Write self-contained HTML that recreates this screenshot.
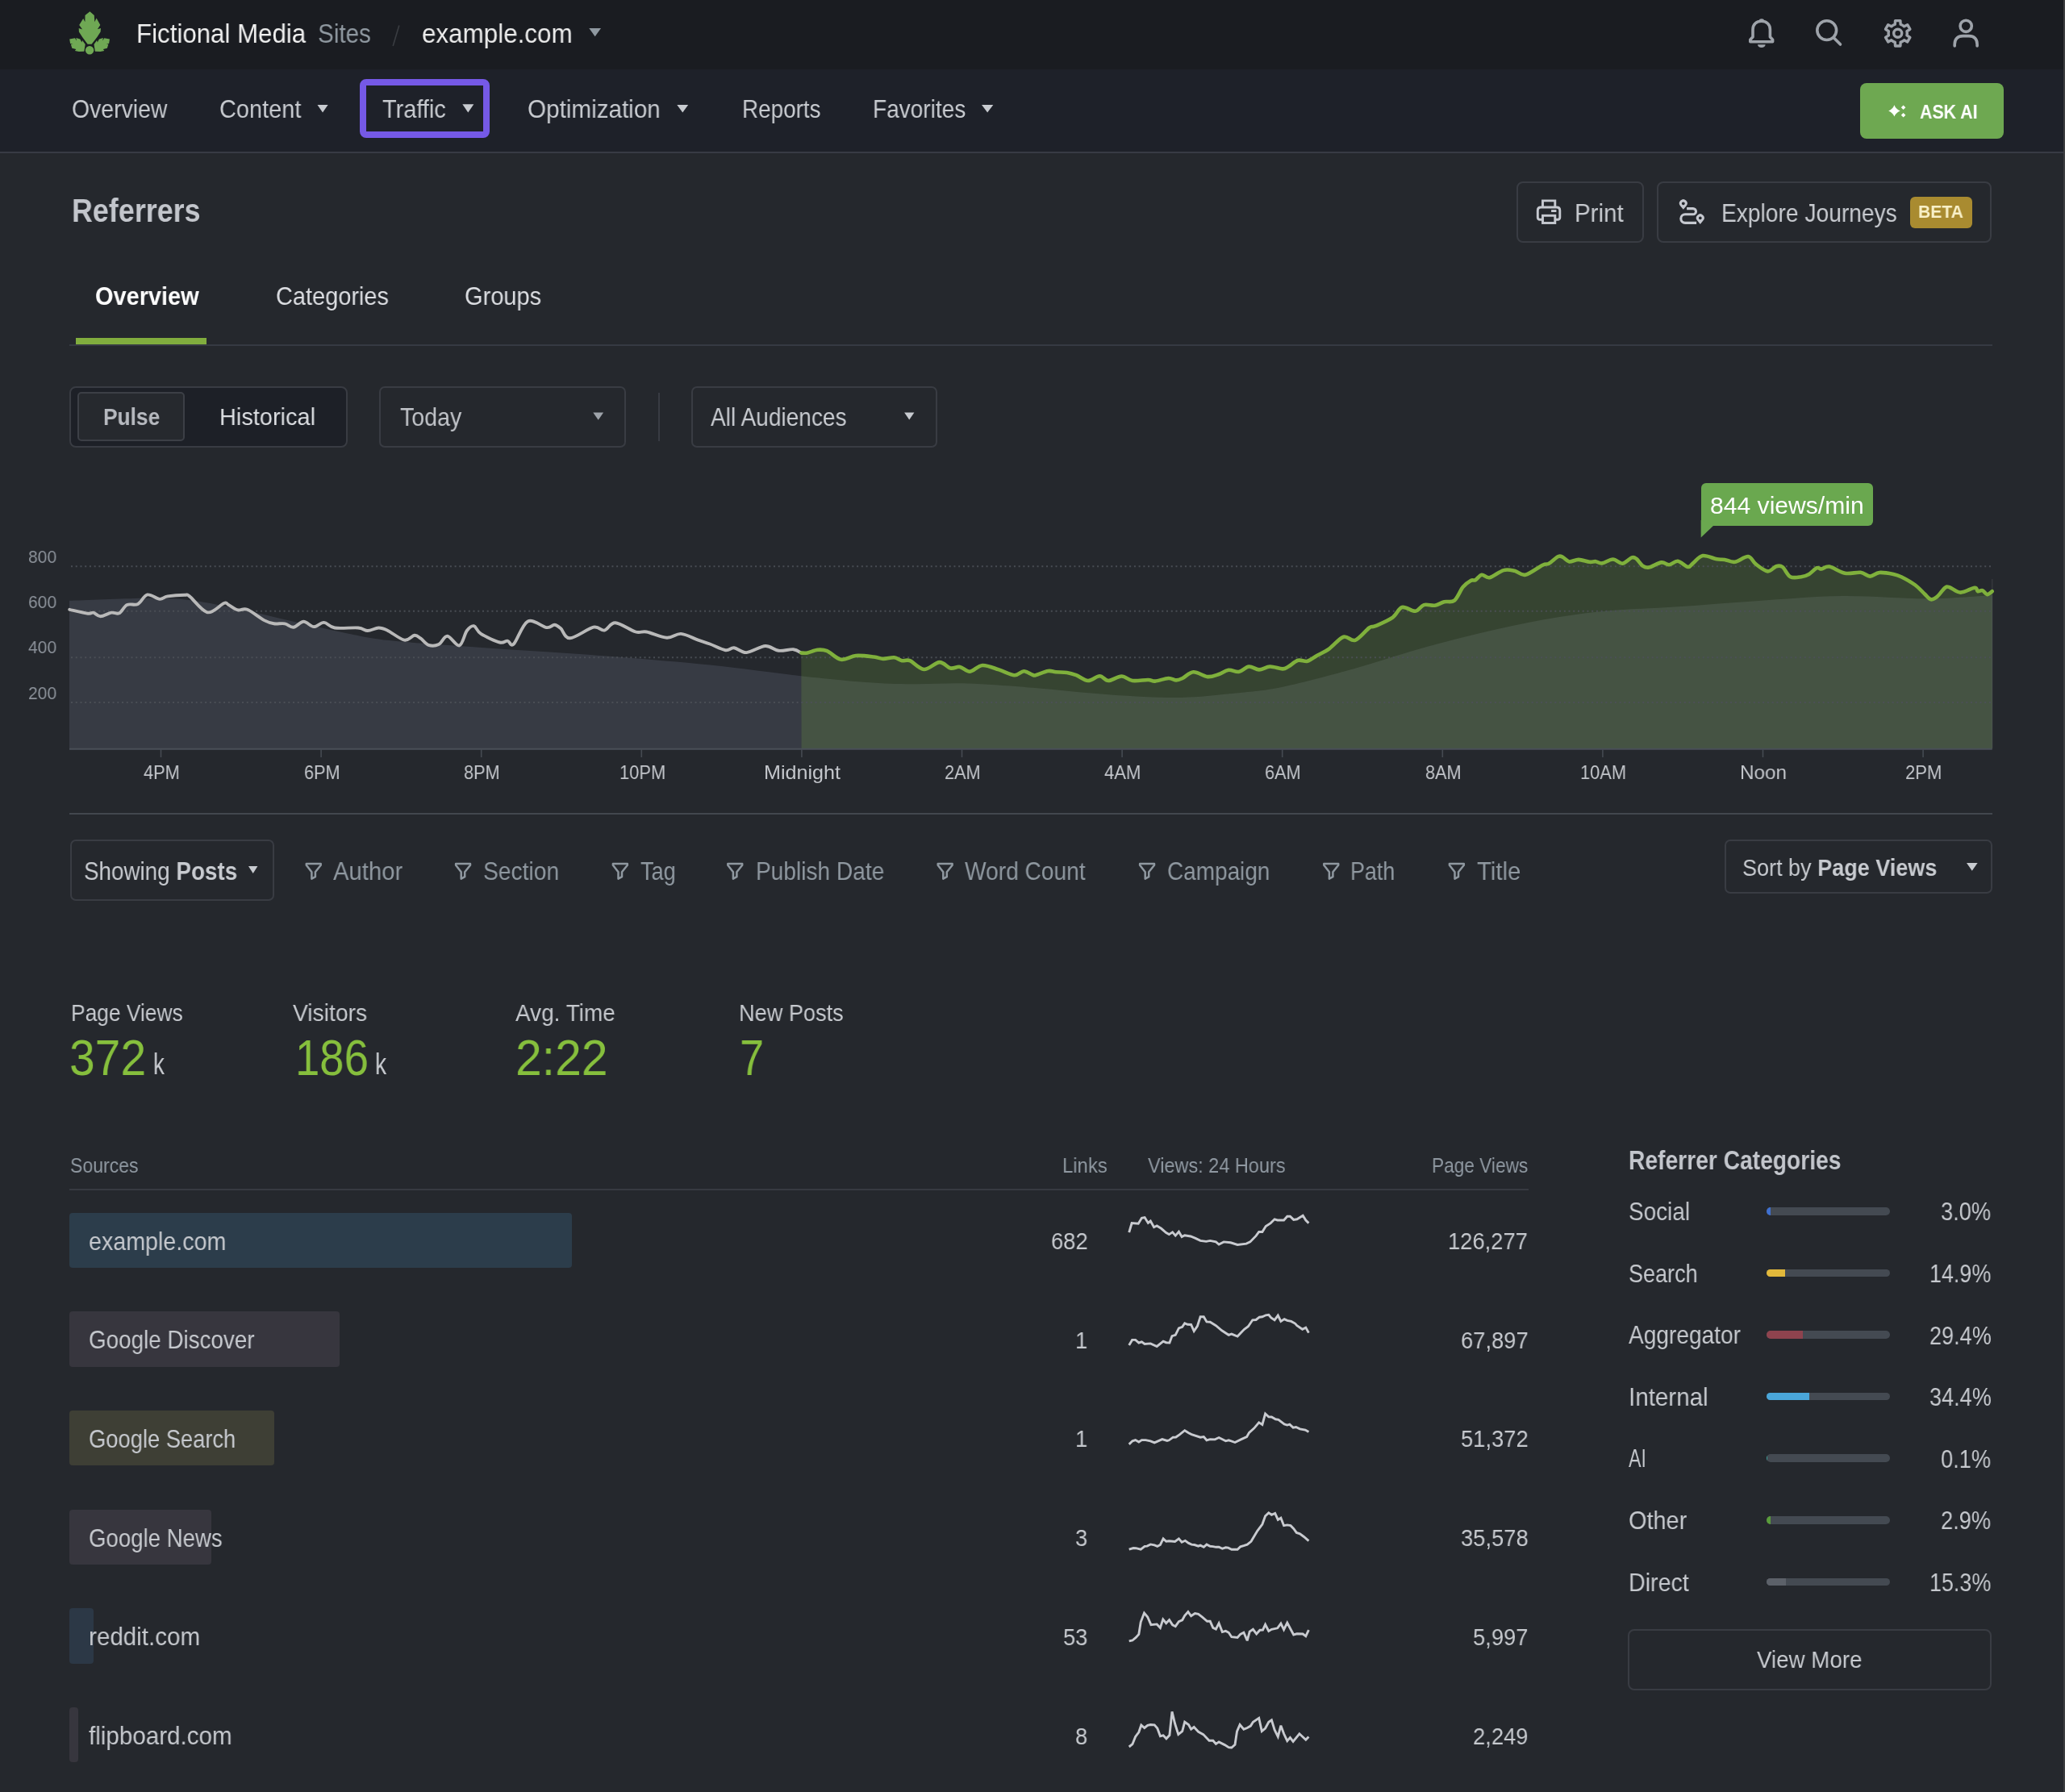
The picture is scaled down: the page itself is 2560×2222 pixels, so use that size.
<!DOCTYPE html>
<html><head><meta charset="utf-8"><title>Referrers</title>
<style>
html,body{margin:0;padding:0;background:#25282d;}
body{width:2560px;height:2222px;position:relative;overflow:hidden;font-family:"Liberation Sans",sans-serif;}
.t{position:absolute;white-space:nowrap;line-height:1;transform-origin:0 0;will-change:transform;}
.t b{font-weight:700;}
.r{position:absolute;box-sizing:border-box;}
svg.r{overflow:visible;}
</style></head><body>
<div class="r" style="left:0.00px;top:0.00px;width:2560.00px;height:85.50px;background:#1a1c21;"></div>
<div class="r" style="left:0.00px;top:85.50px;width:2560.00px;height:102.50px;background:#1e2129;"></div>
<div class="r" style="left:0.00px;top:188.00px;width:2560.00px;height:2.00px;background:#383b44;"></div>
<div class="r" style="left:2558.00px;top:0.00px;width:2.00px;height:2222.00px;background:#3d3e40;"></div>
<svg class="r" style="left:80px;top:8px" width="64" height="64" viewBox="0 0 64 64">
<g fill="#6fa854">
<path d="M31.4 6.2 L36.8 11 L37.3 19.3 L39.6 14.6 L44.3 22.9 L40.9 28.2 L45 27.1 L44.6 31.4 L40.4 37.9 L33.6 46.8 L28.6 46.8 L22.1 37.9 L17.9 31.4 L17.7 27.1 L22.1 28.6 L18.2 22.9 L23.2 15 L25.4 19.3 L25.5 11 Z"/>
<path d="M6.2 40.5 L12.9 39.3 L15 42.5 L14.3 39.1 L19.3 40.4 L21.4 44.5 L22.1 42.1 L25.7 47.1 L24.3 55.7 L17.9 56 L12.9 55 L14.3 52.9 L9.3 51.8 L7.9 47.1 L10.4 46.8 L7.1 46.1 Z"/>
<path transform="translate(62.2 0) scale(-1 1)" d="M6.2 40.5 L12.9 39.3 L15 42.5 L14.3 39.1 L19.3 40.4 L21.4 44.5 L22.1 42.1 L25.7 47.1 L24.3 55.7 L17.9 56 L12.9 55 L14.3 52.9 L9.3 51.8 L7.9 47.1 L10.4 46.8 L7.1 46.1 Z"/>
<circle cx="31.1" cy="54.3" r="5.2"/>
</g></svg>
<div class="t" style="left:169.00px;top:26.14px;font-size:32.56px;color:#f0f0f0;transform:scaleX(0.9603);">Fictional Media</div>
<div class="t" style="left:394.30px;top:26.14px;font-size:32.56px;color:#8f98a0;transform:scaleX(0.9105);">Sites</div>
<div class="t" style="left:522.70px;top:26.14px;font-size:32.56px;color:#ececec;transform:scaleX(0.9642);">example.com</div>
<svg class="r" style="left:0;top:0" width="1" height="1" overflow="visible"><path d="M730.30 35.10L745.00 35.10L737.65 45.20Z" fill="#8f98a0"/></svg>
<div class="t" style="left:89.20px;top:119.96px;font-size:30.52px;color:#c8cbd0;transform:scaleX(0.9302);">Overview</div>
<div class="t" style="left:271.50px;top:119.96px;font-size:30.52px;color:#c8cbd0;transform:scaleX(0.9477);">Content</div>
<svg class="r" style="left:0;top:0" width="1" height="1" overflow="visible"><path d="M393.50 130.00L406.60 130.00L400.05 139.50Z" fill="#c8cbd0"/></svg>
<div class="r" style="left:446.00px;top:97.80px;width:161.30px;height:73.10px;border:8px solid #7559e6;border-radius:8px;"></div>
<div class="t" style="left:473.90px;top:120.36px;font-size:30.52px;color:#c8cbd0;transform:scaleX(0.9481);">Traffic</div>
<svg class="r" style="left:0;top:0" width="1" height="1" overflow="visible"><path d="M573.30 129.20L587.30 129.20L580.30 139.50Z" fill="#c8cbd0"/></svg>
<div class="t" style="left:654.00px;top:119.96px;font-size:30.52px;color:#c8cbd0;transform:scaleX(0.9714);">Optimization</div>
<svg class="r" style="left:0;top:0" width="1" height="1" overflow="visible"><path d="M839.30 130.00L853.20 130.00L846.25 139.50Z" fill="#c8cbd0"/></svg>
<div class="t" style="left:920.40px;top:119.96px;font-size:30.52px;color:#c8cbd0;transform:scaleX(0.9133);">Reports</div>
<div class="t" style="left:1081.60px;top:119.96px;font-size:30.52px;color:#c8cbd0;transform:scaleX(0.9186);">Favorites</div>
<svg class="r" style="left:0;top:0" width="1" height="1" overflow="visible"><path d="M1217.00 130.00L1231.30 130.00L1224.15 139.50Z" fill="#c8cbd0"/></svg>
<div class="r" style="left:2306.00px;top:103.30px;width:178.00px;height:68.30px;background:#6ea851;border-radius:8px;"></div>
<div class="t" style="left:2379.90px;top:127.22px;font-size:23.84px;color:#ffffff;font-weight:700;transform:scaleX(0.8961);">ASK AI</div>
<div class="t" style="left:89.20px;top:242.36px;font-size:39.97px;color:#c3c6cc;font-weight:700;transform:scaleX(0.8973);">Referrers</div>
<div class="r" style="left:1880.00px;top:225.00px;width:157.60px;height:75.70px;border:2px solid #393c43;border-radius:8px;"></div>
<div class="t" style="left:1952.00px;top:248.56px;font-size:30.52px;color:#c8cbd0;transform:scaleX(0.9688);">Print</div>
<div class="r" style="left:2053.70px;top:225.00px;width:415.80px;height:75.70px;border:2px solid #393c43;border-radius:8px;"></div>
<div class="t" style="left:2134.20px;top:248.56px;font-size:30.52px;color:#c8cbd0;transform:scaleX(0.9236);">Explore Journeys</div>
<div class="r" style="left:2368.00px;top:243.70px;width:76.70px;height:39.00px;background:#a98b30;border-radius:6px;"></div>
<div class="t" style="left:2378.00px;top:252.23px;font-size:22.53px;color:#f8f0c8;font-weight:700;transform:scaleX(0.9387);">BETA</div>
<div class="t" style="left:118.20px;top:351.96px;font-size:30.52px;color:#ffffff;font-weight:700;transform:scaleX(0.9477);">Overview</div>
<div class="t" style="left:341.60px;top:351.96px;font-size:30.52px;color:#dcdee2;transform:scaleX(0.9484);">Categories</div>
<div class="t" style="left:575.80px;top:351.96px;font-size:30.52px;color:#dcdee2;transform:scaleX(0.9512);">Groups</div>
<div class="r" style="left:86.00px;top:427.30px;width:2384.00px;height:1.50px;background:#363a43;"></div>
<div class="r" style="left:94.00px;top:419.00px;width:162.20px;height:8.00px;background:#81ad3e;"></div>
<div class="r" style="left:86.40px;top:479.30px;width:344.60px;height:75.30px;background:#1d2027;border:2px solid #393c43;border-radius:8px;"></div>
<div class="r" style="left:96.20px;top:486.40px;width:132.60px;height:61.10px;background:#26292e;border:2px solid #3c3f46;border-radius:5px;"></div>
<div class="t" style="left:128.10px;top:502.48px;font-size:29.80px;color:#b6b9bf;font-weight:700;transform:scaleX(0.8831);">Pulse</div>
<div class="t" style="left:271.50px;top:502.48px;font-size:29.80px;color:#dcdee2;transform:scaleX(0.9712);">Historical</div>
<div class="r" style="left:470.00px;top:478.80px;width:306.40px;height:76.00px;border:2px solid #393c43;border-radius:7px;"></div>
<div class="t" style="left:496.20px;top:502.16px;font-size:30.52px;color:#c0c3c8;transform:scaleX(0.9357);">Today</div>
<svg class="r" style="left:0;top:0" width="1" height="1" overflow="visible"><path d="M735.30 511.50L748.10 511.50L741.70 520.70Z" fill="#9ea3aa"/></svg>
<div class="r" style="left:815.60px;top:486.60px;width:2.00px;height:60.70px;background:#393c43;"></div>
<div class="r" style="left:856.50px;top:479.30px;width:305.70px;height:75.70px;border:2px solid #393c43;border-radius:7px;"></div>
<div class="t" style="left:881.30px;top:502.05px;font-size:31.25px;color:#c8cbd0;transform:scaleX(0.8986);">All Audiences</div>
<svg class="r" style="left:0;top:0" width="1" height="1" overflow="visible"><path d="M1121.10 511.40L1133.40 511.40L1127.25 520.60Z" fill="#c8cbd0"/></svg>
<div class="t" style="left:35.03px;top:679.41px;font-size:22.67px;color:#8c929a;transform:scaleX(0.9300);">800</div>
<div class="t" style="left:35.03px;top:734.81px;font-size:22.67px;color:#8c929a;transform:scaleX(0.9300);">600</div>
<div class="t" style="left:35.03px;top:791.11px;font-size:22.67px;color:#8c929a;transform:scaleX(0.9300);">400</div>
<div class="t" style="left:35.03px;top:847.81px;font-size:22.67px;color:#8c929a;transform:scaleX(0.9300);">200</div>
<div class="t" style="left:177.90px;top:946.48px;font-size:24.71px;color:#c3c6cb;transform:scaleX(0.8818);">4PM</div>
<div class="t" style="left:376.65px;top:946.48px;font-size:24.71px;color:#c3c6cb;transform:scaleX(0.8759);">6PM</div>
<div class="t" style="left:575.20px;top:946.48px;font-size:24.71px;color:#c3c6cb;transform:scaleX(0.8779);">8PM</div>
<div class="t" style="left:767.50px;top:946.48px;font-size:24.71px;color:#c3c6cb;transform:scaleX(0.8863);">10PM</div>
<div class="t" style="left:947.20px;top:946.48px;font-size:24.71px;color:#c3c6cb;transform:scaleX(1.0171);">Midnight</div>
<div class="t" style="left:1171.00px;top:946.48px;font-size:24.71px;color:#c3c6cb;transform:scaleX(0.8779);">2AM</div>
<div class="t" style="left:1369.25px;top:946.48px;font-size:24.71px;color:#c3c6cb;transform:scaleX(0.8917);">4AM</div>
<div class="t" style="left:1568.20px;top:946.48px;font-size:24.71px;color:#c3c6cb;transform:scaleX(0.8779);">6AM</div>
<div class="t" style="left:1766.85px;top:946.48px;font-size:24.71px;color:#c3c6cb;transform:scaleX(0.8759);">8AM</div>
<div class="t" style="left:1959.20px;top:946.48px;font-size:24.71px;color:#c3c6cb;transform:scaleX(0.8832);">10AM</div>
<div class="t" style="left:2157.25px;top:946.48px;font-size:24.71px;color:#c3c6cb;transform:scaleX(0.9834);">Noon</div>
<div class="t" style="left:2362.25px;top:946.48px;font-size:24.71px;color:#c3c6cb;transform:scaleX(0.8917);">2PM</div>
<div class="r" style="left:2108.70px;top:599.40px;width:213.10px;height:52.30px;background:#6aa84f;border-radius:6px;"></div>
<div class="t" style="left:2119.50px;top:612.08px;font-size:29.80px;color:#ffffff;transform:scaleX(1.0101);">844 views/min</div>
<div class="r" style="left:86.00px;top:1008.10px;width:2384.00px;height:2.00px;background:#42474e;"></div>
<div class="r" style="left:87.00px;top:1041.00px;width:253.00px;height:75.50px;border:2px solid #393c43;border-radius:7px;"></div>
<div class="t" style="left:104.20px;top:1065.16px;font-size:30.52px;color:#c8cbd0;transform:scaleX(0.9114);">Showing <b>Posts</b></div>
<svg class="r" style="left:0;top:0" width="1" height="1" overflow="visible"><path d="M308.00 1074.00L319.40 1074.00L313.70 1083.00Z" fill="#c8cbd0"/></svg>
<div class="t" style="left:412.70px;top:1065.46px;font-size:30.52px;color:#8f98a0;transform:scaleX(0.9597);">Author</div>
<div class="t" style="left:599.40px;top:1065.46px;font-size:30.52px;color:#8f98a0;transform:scaleX(0.9254);">Section</div>
<div class="t" style="left:793.70px;top:1065.46px;font-size:30.52px;color:#8f98a0;transform:scaleX(0.8881);">Tag</div>
<div class="t" style="left:936.50px;top:1065.46px;font-size:30.52px;color:#8f98a0;transform:scaleX(0.9210);">Publish Date</div>
<div class="t" style="left:1196.10px;top:1065.46px;font-size:30.52px;color:#8f98a0;transform:scaleX(0.9224);">Word Count</div>
<div class="t" style="left:1446.60px;top:1065.46px;font-size:30.52px;color:#8f98a0;transform:scaleX(0.9157);">Campaign</div>
<div class="t" style="left:1674.30px;top:1065.46px;font-size:30.52px;color:#8f98a0;transform:scaleX(0.8808);">Path</div>
<div class="t" style="left:1830.80px;top:1065.46px;font-size:30.52px;color:#8f98a0;transform:scaleX(0.9623);">Title</div>
<div class="r" style="left:2138.40px;top:1041.30px;width:331.20px;height:67.20px;border:2px solid #393c43;border-radius:7px;"></div>
<div class="t" style="left:2160.40px;top:1060.80px;font-size:29.65px;color:#c8cbd0;transform:scaleX(0.9116);">Sort by <b>Page Views</b></div>
<svg class="r" style="left:0;top:0" width="1" height="1" overflow="visible"><path d="M2438.00 1070.00L2451.60 1070.00L2444.80 1079.70Z" fill="#c8cbd0"/></svg>
<div class="t" style="left:88.10px;top:1241.99px;font-size:29.07px;color:#c6c9ce;transform:scaleX(0.9066);">Page Views</div>
<div class="t" style="left:363.10px;top:1241.99px;font-size:29.07px;color:#c6c9ce;transform:scaleX(0.9719);">Visitors</div>
<div class="t" style="left:639.20px;top:1241.99px;font-size:29.07px;color:#c6c9ce;transform:scaleX(0.9618);">Avg. Time</div>
<div class="t" style="left:916.20px;top:1241.99px;font-size:29.07px;color:#c6c9ce;transform:scaleX(0.9343);">New Posts</div>
<div class="t" style="left:86.00px;top:1279.70px;font-size:62.61px;color:#86bf3d;transform:scaleX(0.9097);">372</div>
<div class="t" style="left:365.60px;top:1279.70px;font-size:62.61px;color:#86bf3d;transform:scaleX(0.8695);">186</div>
<div class="t" style="left:638.50px;top:1279.70px;font-size:62.61px;color:#86bf3d;transform:scaleX(0.9398);">2:22</div>
<div class="t" style="left:916.50px;top:1279.70px;font-size:62.61px;color:#86bf3d;transform:scaleX(0.8618);">7</div>
<div class="t" style="left:189.80px;top:1301.88px;font-size:36.41px;color:#c6c9ce;transform:scaleX(0.7604);">k</div>
<div class="t" style="left:465.40px;top:1301.88px;font-size:36.41px;color:#c6c9ce;transform:scaleX(0.7768);">k</div>
<div class="t" style="left:87.20px;top:1431.75px;font-size:26.16px;color:#8f98a1;transform:scaleX(0.8816);">Sources</div>
<div class="t" style="left:1316.60px;top:1431.75px;font-size:26.16px;color:#8f98a1;transform:scaleX(0.9122);">Links</div>
<div class="t" style="left:1422.50px;top:1431.75px;font-size:26.16px;color:#8f98a1;transform:scaleX(0.8973);">Views: 24 Hours</div>
<div class="t" style="left:1775.20px;top:1431.75px;font-size:26.16px;color:#8f98a1;transform:scaleX(0.8664);">Page Views</div>
<div class="r" style="left:86.00px;top:1474.30px;width:1809.00px;height:2.20px;background:#373a41;"></div>
<div class="r" style="left:86.40px;top:1503.80px;width:622.20px;height:68.20px;background:#2c3d4b;border-radius:4px;"></div>
<div class="t" style="left:110.30px;top:1523.66px;font-size:30.52px;color:#c6c9ce;transform:scaleX(0.9393);">example.com</div>
<div class="t" style="left:1303.08px;top:1525.00px;font-size:28.94px;color:#c6c9ce;transform:scaleX(0.9450);">682</div>
<div class="t" style="left:1795.44px;top:1525.00px;font-size:28.94px;color:#c6c9ce;transform:scaleX(0.9450);">126,277</div>
<div class="r" style="left:86.40px;top:1626.45px;width:334.60px;height:68.20px;background:#37363e;border-radius:4px;"></div>
<div class="t" style="left:110.30px;top:1646.36px;font-size:30.52px;color:#c6c9ce;transform:scaleX(0.9108);">Google Discover</div>
<div class="t" style="left:1333.49px;top:1647.70px;font-size:28.94px;color:#c6c9ce;transform:scaleX(0.9450);">1</div>
<div class="t" style="left:1810.64px;top:1647.70px;font-size:28.94px;color:#c6c9ce;transform:scaleX(0.9450);">67,897</div>
<div class="r" style="left:86.40px;top:1749.10px;width:253.40px;height:68.20px;background:#3e3f35;border-radius:4px;"></div>
<div class="t" style="left:110.30px;top:1769.06px;font-size:30.52px;color:#c6c9ce;transform:scaleX(0.8953);">Google Search</div>
<div class="t" style="left:1333.49px;top:1770.40px;font-size:28.94px;color:#c6c9ce;transform:scaleX(0.9450);">1</div>
<div class="t" style="left:1810.64px;top:1770.40px;font-size:28.94px;color:#c6c9ce;transform:scaleX(0.9450);">51,372</div>
<div class="r" style="left:86.40px;top:1871.75px;width:175.30px;height:68.20px;background:#37363e;border-radius:4px;"></div>
<div class="t" style="left:110.30px;top:1891.76px;font-size:30.52px;color:#c6c9ce;transform:scaleX(0.9038);">Google News</div>
<div class="t" style="left:1333.49px;top:1893.10px;font-size:28.94px;color:#c6c9ce;transform:scaleX(0.9450);">3</div>
<div class="t" style="left:1810.64px;top:1893.10px;font-size:28.94px;color:#c6c9ce;transform:scaleX(0.9450);">35,578</div>
<div class="r" style="left:86.40px;top:1994.40px;width:29.50px;height:68.20px;background:#2c3846;border-radius:4px;"></div>
<div class="t" style="left:110.30px;top:2014.46px;font-size:30.52px;color:#c6c9ce;transform:scaleX(0.9699);">reddit.com</div>
<div class="t" style="left:1318.29px;top:2015.80px;font-size:28.94px;color:#c6c9ce;transform:scaleX(0.9450);">53</div>
<div class="t" style="left:1825.87px;top:2015.80px;font-size:28.94px;color:#c6c9ce;transform:scaleX(0.9450);">5,997</div>
<div class="r" style="left:86.40px;top:2117.05px;width:11.10px;height:68.20px;background:#37363e;border-radius:4px;"></div>
<div class="t" style="left:110.30px;top:2137.16px;font-size:30.52px;color:#c6c9ce;transform:scaleX(0.9698);">flipboard.com</div>
<div class="t" style="left:1333.49px;top:2138.50px;font-size:28.94px;color:#c6c9ce;transform:scaleX(0.9450);">8</div>
<div class="t" style="left:1825.87px;top:2138.50px;font-size:28.94px;color:#c6c9ce;transform:scaleX(0.9450);">2,249</div>
<div class="t" style="left:2018.50px;top:1422.84px;font-size:32.56px;color:#c3c6cc;font-weight:700;transform:scaleX(0.8668);">Referrer Categories</div>
<div class="t" style="left:2018.50px;top:1486.97px;font-size:31.10px;color:#c6c9ce;transform:scaleX(0.8982);">Social</div>
<div class="t" style="left:2406.30px;top:1487.35px;font-size:30.66px;color:#c6c9ce;transform:scaleX(0.8902);">3.0%</div>
<div class="r" style="left:2189.5px;top:1497.00px;width:153.5px;height:9.6px;border-radius:5px;background:#444a52;overflow:hidden"><div style="width:5.5px;height:100%;background:#3f70d0"></div></div>
<div class="t" style="left:2018.50px;top:1563.57px;font-size:31.10px;color:#c6c9ce;transform:scaleX(0.8687);">Search</div>
<div class="t" style="left:2392.20px;top:1563.95px;font-size:30.66px;color:#c6c9ce;transform:scaleX(0.8778);">14.9%</div>
<div class="r" style="left:2189.5px;top:1573.60px;width:153.5px;height:9.6px;border-radius:5px;background:#444a52;overflow:hidden"><div style="width:23.4px;height:100%;background:#e2b93b"></div></div>
<div class="t" style="left:2018.50px;top:1640.17px;font-size:31.10px;color:#c6c9ce;transform:scaleX(0.9031);">Aggregator</div>
<div class="t" style="left:2391.70px;top:1640.55px;font-size:30.66px;color:#c6c9ce;transform:scaleX(0.8836);">29.4%</div>
<div class="r" style="left:2189.5px;top:1650.20px;width:153.5px;height:9.6px;border-radius:5px;background:#444a52;overflow:hidden"><div style="width:45.3px;height:100%;background:#8e434e"></div></div>
<div class="t" style="left:2018.50px;top:1716.77px;font-size:31.10px;color:#c6c9ce;transform:scaleX(0.9515);">Internal</div>
<div class="t" style="left:2391.70px;top:1717.15px;font-size:30.66px;color:#c6c9ce;transform:scaleX(0.8836);">34.4%</div>
<div class="r" style="left:2189.5px;top:1726.80px;width:153.5px;height:9.6px;border-radius:5px;background:#444a52;overflow:hidden"><div style="width:53.1px;height:100%;background:#4aa6d9"></div></div>
<div class="t" style="left:2018.50px;top:1793.37px;font-size:31.10px;color:#c6c9ce;transform:scaleX(0.7451);">AI</div>
<div class="t" style="left:2406.30px;top:1793.75px;font-size:30.66px;color:#c6c9ce;transform:scaleX(0.8902);">0.1%</div>
<div class="r" style="left:2189.5px;top:1803.40px;width:153.5px;height:9.6px;border-radius:5px;background:#444a52;overflow:hidden"><div style="width:1.6px;height:100%;background:#3aa39a"></div></div>
<div class="t" style="left:2018.50px;top:1869.97px;font-size:31.10px;color:#c6c9ce;transform:scaleX(0.9294);">Other</div>
<div class="t" style="left:2406.30px;top:1870.35px;font-size:30.66px;color:#c6c9ce;transform:scaleX(0.8902);">2.9%</div>
<div class="r" style="left:2189.5px;top:1880.00px;width:153.5px;height:9.6px;border-radius:5px;background:#444a52;overflow:hidden"><div style="width:5.0px;height:100%;background:#5a9c3b"></div></div>
<div class="t" style="left:2018.50px;top:1946.57px;font-size:31.10px;color:#c6c9ce;transform:scaleX(0.9210);">Direct</div>
<div class="t" style="left:2392.20px;top:1946.95px;font-size:30.66px;color:#c6c9ce;transform:scaleX(0.8778);">15.3%</div>
<div class="r" style="left:2189.5px;top:1956.60px;width:153.5px;height:9.6px;border-radius:5px;background:#444a52;overflow:hidden"><div style="width:24.2px;height:100%;background:#5c6169"></div></div>
<div class="r" style="left:2018.30px;top:2020.00px;width:450.70px;height:75.50px;border:2px solid #393c43;border-radius:8px;"></div>
<div class="t" style="left:2178.20px;top:2042.58px;font-size:29.80px;color:#c8cbd0;transform:scaleX(0.9300);">View More</div>
<svg class="r" style="left:0;top:0" width="2560" height="2222" viewBox="0 0 2560 2222">
<line x1="494.8" y1="31.5" x2="487.2" y2="57" stroke="#3a3d42" stroke-width="1.6"/>
<g fill="none" stroke="#9ea3aa" stroke-width="3.6" stroke-linecap="round" stroke-linejoin="round">
<path d="M2169.8 51.8 L2197.6 51.8 L2197.6 49.2 L2194.4 45.8 L2194.4 36.5 C2194.4 30.2 2189.8 26.2 2183.7 26.2 C2177.6 26.2 2173 30.2 2173 36.5 L2173 45.8 L2169.8 49.2 Z"/>
<circle cx="2264.7" cy="37.6" r="11.9"/>
<line x1="2274" y1="47.5" x2="2281.5" y2="55"/>
<circle cx="2437.2" cy="32.3" r="7.1"/>
<path d="M2423.2 57 L2423.2 55 C2423.2 48.5 2427 44.6 2433.5 44.6 L2441 44.6 C2447.4 44.6 2451.1 48.5 2451.1 55 L2451.1 57"/>
</g>
<ellipse cx="2183.9" cy="25.6" rx="3" ry="2.3" fill="#9ea3aa"/>
<path d="M2179 55.2 L2188.6 55.2 A4.8 3.9 0 0 1 2179 55.2 Z" fill="#9ea3aa"/>
<path d="M2346.90 31.25 L2349.27 30.22 L2349.52 25.62 L2355.88 25.62 L2356.13 30.22 L2358.50 31.25 L2360.58 32.79 L2364.69 30.71 L2367.87 36.21 L2364.01 38.73 L2364.30 41.30 L2364.01 43.87 L2367.87 46.39 L2364.69 51.89 L2360.58 49.81 L2358.50 51.35 L2356.13 52.38 L2355.88 56.98 L2349.52 56.98 L2349.27 52.38 L2346.90 51.35 L2344.82 49.81 L2340.71 51.89 L2337.53 46.39 L2341.39 43.87 L2341.10 41.30 L2341.39 38.73 L2337.53 36.21 L2340.71 30.71 L2344.82 32.79Z" fill="none" stroke="#9ea3aa" stroke-width="3.4" stroke-linejoin="round"/>
<circle cx="2352.7" cy="41.3" r="5.0" fill="none" stroke="#9ea3aa" stroke-width="3.4"/>
<path d="M2348.4 130.2 Q2350.3 135.2 2355.7 137.4 Q2350.3 139.6 2348.4 144.6 Q2346.5 139.6 2341.2 137.4 Q2346.5 135.2 2348.4 130.2Z" fill="#fff"/>
<path d="M2359.6 130.4 L2362.4 133.2 L2359.6 136 L2356.8 133.2Z" fill="#fff"/>
<path d="M2359.6 140 L2362.4 142.8 L2359.6 145.6 L2356.8 142.8Z" fill="#fff"/>
<g transform="translate(1895 240)" fill="none" stroke="#c6c9d0" stroke-width="2.9" stroke-linejoin="miter">
<path d="M17.5 17 L17.5 8.9 L32.8 8.9 L32.8 17"/>
<path d="M17.5 32.3 L14 32.3 Q11.3 32.3 11.3 29.6 L11.3 21 Q11.3 17 15.3 17 L34.8 17 Q38.8 17 38.8 21 L38.8 29.6 Q38.8 32.3 36.1 32.3 L32.8 32.3"/>
<rect x="17.5" y="27.3" width="15.3" height="9.2" fill="#25282d" fill-opacity="0"/>
<rect x="28.1" y="20.1" width="6.3" height="2.9" fill="#c6c9d0" stroke="none"/>
</g>
<g transform="translate(2075 240)" fill="none" stroke="#c6c9d0" stroke-width="3.1">
<path d="M16.1 18.6 L23.9 18.6 A3.6 3.6 0 0 1 23.9 25.8 L14.1 25.8 A5.3 5.3 0 0 0 14.1 36.4 L28.1 36.4"/>
</g>
<g transform="translate(2075 240)" fill="#c6c9d0">
<path fill-rule="evenodd" d="M11.8 19.8 L8 15.2 A4.9 4.9 0 1 1 15.6 15.2 Z M11.8 10.4 A1.9 1.9 0 1 0 11.81 10.4Z"/>
<path fill-rule="evenodd" d="M32.8 37.9 L29 33.3 A4.9 4.9 0 1 1 36.6 33.3 Z M32.8 28.5 A1.9 1.9 0 1 0 32.81 28.5Z"/>
</g>
<path d="M86.00 744.80 C101.15 744.28 155.30 742.12 176.90 741.70 C198.50 741.28 202.70 741.42 215.60 742.30 C228.50 743.18 238.17 744.27 254.30 747.00 C270.43 749.73 293.02 754.48 312.40 758.70 C331.78 762.92 351.22 767.93 370.60 772.30 C389.98 776.67 410.47 781.32 428.70 784.90 C446.93 788.48 455.30 791.05 480.00 793.80 C504.70 796.55 544.62 799.02 576.90 801.40 C609.18 803.78 641.42 805.83 673.70 808.10 C705.98 810.37 736.22 812.25 770.60 815.00 C804.98 817.75 842.88 820.73 880.00 824.60 C917.12 828.47 961.02 834.65 993.30 838.20 C1025.58 841.75 1050.62 844.23 1073.70 845.90 C1096.78 847.57 1110.82 847.93 1131.80 848.20 C1152.78 848.47 1174.90 846.75 1199.60 847.50 C1224.30 848.25 1250.45 850.38 1280.00 852.70 C1309.55 855.02 1346.23 859.37 1376.90 861.40 C1407.57 863.43 1438.18 865.22 1464.00 864.90 C1489.82 864.58 1510.80 861.70 1531.80 859.50 C1552.80 857.30 1565.30 856.83 1590.00 851.70 C1614.70 846.57 1652.08 836.43 1680.00 828.70 C1707.92 820.97 1731.67 812.58 1757.50 805.30 C1783.33 798.02 1809.18 791.13 1835.00 785.00 C1860.82 778.87 1886.57 773.03 1912.40 768.50 C1938.23 763.97 1962.07 760.50 1990.00 757.80 C2017.93 755.10 2048.85 754.40 2080.00 752.30 C2111.15 750.20 2143.00 747.42 2176.90 745.20 C2210.80 742.98 2247.88 739.48 2283.40 739.00 C2318.92 738.52 2358.95 742.48 2390.00 742.30 C2421.05 742.12 2456.42 738.63 2469.70 737.90 L2469.7 928.8 L86.0 928.8 Z" fill="#bbc6ee" fill-opacity="0.12"/>
<path d="M993.30 809.50 C994.58 809.50 997.60 810.12 1001.00 809.50 C1004.40 808.88 1009.65 806.18 1013.70 805.80 C1017.75 805.42 1020.47 805.20 1025.30 807.20 C1030.13 809.20 1036.73 816.83 1042.70 817.80 C1048.67 818.77 1054.32 813.55 1061.10 813.00 C1067.88 812.45 1077.75 813.85 1083.40 814.50 C1089.05 815.15 1090.80 816.77 1095.00 816.90 C1099.20 817.03 1104.72 814.92 1108.60 815.30 C1112.48 815.68 1115.07 818.55 1118.30 819.20 C1121.53 819.85 1123.48 817.40 1128.00 819.20 C1132.52 821.00 1139.28 829.68 1145.40 830.00 C1151.52 830.32 1159.22 821.35 1164.70 821.10 C1170.18 820.85 1174.08 827.53 1178.30 828.50 C1182.52 829.47 1185.97 826.20 1190.00 826.90 C1194.03 827.60 1197.83 833.02 1202.50 832.70 C1207.17 832.38 1212.02 825.38 1218.00 825.00 C1223.98 824.62 1231.78 828.37 1238.40 830.40 C1245.02 832.43 1252.55 836.88 1257.70 837.20 C1262.85 837.52 1265.58 832.38 1269.30 832.30 C1273.02 832.22 1277.57 835.88 1280.00 836.70 C1282.43 837.52 1280.67 837.98 1283.90 837.20 C1287.13 836.42 1295.22 832.65 1299.40 832.00 C1303.58 831.35 1305.13 832.98 1309.00 833.30 C1312.87 833.62 1318.40 833.25 1322.60 833.90 C1326.80 834.55 1329.83 835.52 1334.20 837.20 C1338.57 838.88 1343.95 843.83 1348.80 844.00 C1353.65 844.17 1359.10 838.20 1363.30 838.20 C1367.50 838.20 1369.48 843.95 1374.00 844.00 C1378.52 844.05 1385.40 838.50 1390.40 838.50 C1395.40 838.50 1398.52 843.25 1404.00 844.00 C1409.48 844.75 1418.63 842.90 1423.30 843.00 C1427.97 843.10 1427.80 844.93 1432.00 844.60 C1436.20 844.27 1444.13 841.20 1448.50 841.00 C1452.87 840.80 1455.28 843.40 1458.20 843.40 C1461.12 843.40 1462.45 842.68 1466.00 841.00 C1469.55 839.32 1474.33 833.62 1479.50 833.30 C1484.67 832.98 1491.83 838.62 1497.00 839.10 C1502.17 839.58 1506.15 837.58 1510.50 836.20 C1514.85 834.82 1518.90 831.33 1523.10 830.80 C1527.30 830.27 1531.50 833.72 1535.70 833.00 C1539.90 832.28 1544.10 826.93 1548.30 826.50 C1552.50 826.07 1556.55 830.40 1560.90 830.40 C1565.25 830.40 1569.55 826.67 1574.40 826.50 C1579.25 826.33 1586.12 829.45 1590.00 829.40 C1593.88 829.35 1594.48 827.97 1597.70 826.20 C1600.92 824.43 1605.43 819.87 1609.30 818.80 C1613.17 817.73 1617.03 820.77 1620.90 819.80 C1624.77 818.83 1627.98 815.58 1632.50 813.00 C1637.02 810.42 1642.50 808.18 1648.00 804.30 C1653.50 800.42 1660.17 791.45 1665.50 789.70 C1670.83 787.95 1674.68 795.67 1680.00 793.80 C1685.32 791.93 1693.20 781.43 1697.40 778.50 C1701.60 775.57 1700.35 778.35 1705.20 776.20 C1710.05 774.05 1721.02 769.47 1726.50 765.60 C1731.98 761.73 1733.42 754.30 1738.10 753.00 C1742.78 751.70 1750.08 758.28 1754.60 757.80 C1759.12 757.32 1761.17 751.28 1765.20 750.10 C1769.23 748.92 1774.60 751.35 1778.80 750.70 C1783.00 750.05 1786.37 747.22 1790.40 746.20 C1794.43 745.18 1799.12 747.67 1803.00 744.60 C1806.88 741.53 1810.32 731.90 1813.70 727.80 C1817.08 723.70 1820.72 721.45 1823.30 720.00 C1825.88 718.55 1826.93 720.32 1829.20 719.10 C1831.47 717.88 1834.00 713.18 1836.90 712.70 C1839.80 712.22 1842.08 717.13 1846.60 716.20 C1851.12 715.27 1858.83 708.50 1864.00 707.10 C1869.17 705.70 1873.08 706.87 1877.60 707.80 C1882.12 708.73 1885.30 713.88 1891.10 712.70 C1896.90 711.52 1907.55 703.03 1912.40 700.70 C1917.25 698.37 1916.97 700.48 1920.20 698.70 C1923.43 696.92 1928.90 691.28 1931.80 690.00 C1934.70 688.72 1935.33 689.93 1937.60 691.00 C1939.87 692.07 1942.17 695.92 1945.40 696.40 C1948.63 696.88 1952.80 693.83 1957.00 693.90 C1961.20 693.97 1967.05 696.42 1970.60 696.80 C1974.15 697.18 1975.73 695.93 1978.30 696.20 C1980.87 696.47 1982.45 698.85 1986.00 698.40 C1989.55 697.95 1995.40 693.45 1999.60 693.50 C2003.80 693.55 2007.32 699.05 2011.20 698.70 C2015.08 698.35 2019.98 692.37 2022.90 691.40 C2025.82 690.43 2026.45 691.20 2028.70 692.90 C2030.95 694.60 2033.82 699.82 2036.40 701.60 C2038.98 703.38 2040.32 704.30 2044.20 703.60 C2048.08 702.90 2055.50 697.95 2059.70 697.40 C2063.90 696.85 2066.02 700.57 2069.40 700.30 C2072.78 700.03 2076.13 695.35 2080.00 695.80 C2083.87 696.25 2089.37 702.67 2092.60 703.00 C2095.83 703.33 2096.33 700.13 2099.40 697.80 C2102.47 695.47 2106.17 689.75 2111.00 689.00 C2115.83 688.25 2123.88 692.48 2128.40 693.30 C2132.92 694.12 2134.38 693.32 2138.10 693.90 C2141.82 694.48 2145.85 697.45 2150.70 696.80 C2155.55 696.15 2162.83 689.52 2167.20 690.00 C2171.57 690.48 2172.87 696.63 2176.90 699.70 C2180.93 702.77 2187.22 707.98 2191.40 708.40 C2195.58 708.82 2198.93 703.10 2202.00 702.20 C2205.07 701.30 2206.88 700.83 2209.80 703.00 C2212.72 705.17 2215.63 713.17 2219.50 715.20 C2223.37 717.23 2229.13 715.75 2233.00 715.20 C2236.87 714.65 2239.47 713.73 2242.70 711.90 C2245.93 710.07 2249.82 705.27 2252.40 704.20 C2254.98 703.13 2255.62 705.77 2258.20 705.50 C2260.78 705.23 2263.05 701.72 2267.90 702.60 C2272.75 703.48 2280.85 709.60 2287.30 710.80 C2293.75 712.00 2301.43 709.17 2306.60 709.80 C2311.77 710.43 2314.42 714.57 2318.30 714.60 C2322.18 714.63 2325.07 710.45 2329.90 710.00 C2334.73 709.55 2342.78 711.03 2347.30 711.90 C2351.82 712.77 2352.48 712.93 2357.00 715.20 C2361.52 717.47 2369.57 721.95 2374.40 725.50 C2379.23 729.05 2382.77 733.53 2386.00 736.50 C2389.23 739.47 2391.20 742.75 2393.80 743.30 C2396.40 743.85 2398.70 742.22 2401.60 739.80 C2404.50 737.38 2408.63 730.73 2411.20 728.80 C2413.77 726.87 2413.77 727.23 2417.00 728.20 C2420.23 729.17 2425.43 734.50 2430.60 734.60 C2435.77 734.70 2444.45 729.03 2448.00 728.80 C2451.55 728.57 2450.28 732.65 2451.90 733.20 C2453.52 733.75 2455.77 731.45 2457.70 732.10 C2459.63 732.75 2461.50 736.92 2463.50 737.10 C2465.50 737.28 2468.67 733.85 2469.70 733.20 L2469.7 928.8 L993.6 928.8 Z" fill="#7cb342" fill-opacity="0.2"/>
<line x1="88.0" y1="702.2" x2="2469.7" y2="702.2" stroke="#4c5158" stroke-opacity="0.9" stroke-width="2" stroke-dasharray="2 3.73"/>
<line x1="88.0" y1="757.8" x2="2469.7" y2="757.8" stroke="#4c5158" stroke-opacity="0.9" stroke-width="2" stroke-dasharray="2 3.73"/>
<line x1="88.0" y1="815.3" x2="2469.7" y2="815.3" stroke="#4c5158" stroke-opacity="0.9" stroke-width="2" stroke-dasharray="2 3.73"/>
<line x1="88.0" y1="871.0" x2="2469.7" y2="871.0" stroke="#4c5158" stroke-opacity="0.9" stroke-width="2" stroke-dasharray="2 3.73"/>
<line x1="2469.7" y1="718" x2="2469.7" y2="928" stroke="#ffffff" stroke-opacity="0.08" stroke-width="1.5"/>
<path d="M86.20 755.80 C90.00 756.62 104.07 760.05 109.00 760.70 C113.93 761.35 113.20 759.12 115.80 759.70 C118.40 760.28 120.90 764.20 124.60 764.20 C128.30 764.20 134.13 760.35 138.00 759.70 C141.87 759.05 144.55 761.92 147.80 760.30 C151.05 758.68 153.63 751.88 157.50 750.00 C161.37 748.12 166.80 751.10 171.00 749.00 C175.20 746.90 178.20 738.42 182.70 737.40 C187.20 736.38 193.82 742.57 198.00 742.90 C202.18 743.23 202.63 740.25 207.80 739.40 C212.97 738.55 224.47 737.80 229.00 737.80 C233.53 737.80 230.30 735.82 235.00 739.40 C239.70 742.98 250.10 757.87 257.20 759.30 C264.30 760.73 273.23 749.55 277.60 748.00 C281.97 746.45 280.50 748.60 283.40 750.00 C286.30 751.40 291.13 755.43 295.00 756.40 C298.87 757.37 301.10 753.63 306.60 755.80 C312.10 757.97 322.50 766.48 328.00 769.40 C333.50 772.32 335.43 772.65 339.60 773.30 C343.77 773.95 348.97 772.57 353.00 773.30 C357.03 774.03 359.90 778.12 363.80 777.70 C367.70 777.28 372.20 770.90 376.40 770.80 C380.60 770.70 384.80 776.92 389.00 777.10 C393.20 777.28 397.27 771.67 401.60 771.90 C405.93 772.13 407.93 777.40 415.00 778.50 C422.07 779.60 437.20 777.92 444.00 778.50 C450.80 779.08 451.58 782.00 455.80 782.00 C460.02 782.00 465.27 778.58 469.30 778.50 C473.33 778.42 474.67 778.98 480.00 781.50 C485.33 784.02 495.65 792.55 501.30 793.60 C506.95 794.65 510.52 788.12 513.90 787.80 C517.28 787.48 518.70 789.70 521.60 791.70 C524.50 793.70 527.58 798.58 531.30 799.80 C535.02 801.02 540.02 800.83 543.90 799.00 C547.78 797.17 550.33 788.57 554.60 788.80 C558.87 789.03 565.47 801.53 569.50 800.40 C573.53 799.27 575.80 786.03 578.80 782.00 C581.80 777.97 584.60 775.55 587.50 776.20 C590.40 776.85 590.87 782.52 596.20 785.90 C601.53 789.28 614.00 795.05 619.50 796.50 C625.00 797.95 626.30 794.27 629.20 794.60 C632.10 794.93 632.72 802.53 636.90 798.50 C641.08 794.47 647.52 773.80 654.30 770.40 C661.08 767.00 672.10 777.37 677.60 778.10 C683.10 778.83 684.40 774.63 687.30 774.80 C690.20 774.97 691.78 776.35 695.00 779.10 C698.22 781.85 699.82 791.53 706.60 791.30 C713.38 791.07 728.60 779.32 735.70 777.70 C742.80 776.08 744.68 782.50 749.20 781.60 C753.72 780.70 756.33 771.98 762.80 772.30 C769.27 772.62 781.53 781.63 788.00 783.50 C794.47 785.37 795.15 782.30 801.60 783.50 C808.05 784.70 819.60 790.30 826.70 790.70 C833.80 791.10 837.73 785.42 844.20 785.90 C850.67 786.38 859.53 791.50 865.50 793.60 C871.47 795.70 874.35 796.40 880.00 798.50 C885.65 800.60 894.40 805.40 899.40 806.20 C904.40 807.00 905.65 802.82 910.00 803.30 C914.35 803.78 919.03 809.48 925.50 809.10 C931.97 808.72 942.18 801.38 948.80 801.00 C955.42 800.62 959.40 806.10 965.20 806.80 C971.00 807.50 978.92 804.75 983.60 805.20 C988.28 805.65 991.68 808.78 993.30 809.50" fill="none" stroke="#b9b9b9" stroke-width="3.9" stroke-linejoin="round" stroke-linecap="round"/>
<path d="M993.30 809.50 C994.58 809.50 997.60 810.12 1001.00 809.50 C1004.40 808.88 1009.65 806.18 1013.70 805.80 C1017.75 805.42 1020.47 805.20 1025.30 807.20 C1030.13 809.20 1036.73 816.83 1042.70 817.80 C1048.67 818.77 1054.32 813.55 1061.10 813.00 C1067.88 812.45 1077.75 813.85 1083.40 814.50 C1089.05 815.15 1090.80 816.77 1095.00 816.90 C1099.20 817.03 1104.72 814.92 1108.60 815.30 C1112.48 815.68 1115.07 818.55 1118.30 819.20 C1121.53 819.85 1123.48 817.40 1128.00 819.20 C1132.52 821.00 1139.28 829.68 1145.40 830.00 C1151.52 830.32 1159.22 821.35 1164.70 821.10 C1170.18 820.85 1174.08 827.53 1178.30 828.50 C1182.52 829.47 1185.97 826.20 1190.00 826.90 C1194.03 827.60 1197.83 833.02 1202.50 832.70 C1207.17 832.38 1212.02 825.38 1218.00 825.00 C1223.98 824.62 1231.78 828.37 1238.40 830.40 C1245.02 832.43 1252.55 836.88 1257.70 837.20 C1262.85 837.52 1265.58 832.38 1269.30 832.30 C1273.02 832.22 1277.57 835.88 1280.00 836.70 C1282.43 837.52 1280.67 837.98 1283.90 837.20 C1287.13 836.42 1295.22 832.65 1299.40 832.00 C1303.58 831.35 1305.13 832.98 1309.00 833.30 C1312.87 833.62 1318.40 833.25 1322.60 833.90 C1326.80 834.55 1329.83 835.52 1334.20 837.20 C1338.57 838.88 1343.95 843.83 1348.80 844.00 C1353.65 844.17 1359.10 838.20 1363.30 838.20 C1367.50 838.20 1369.48 843.95 1374.00 844.00 C1378.52 844.05 1385.40 838.50 1390.40 838.50 C1395.40 838.50 1398.52 843.25 1404.00 844.00 C1409.48 844.75 1418.63 842.90 1423.30 843.00 C1427.97 843.10 1427.80 844.93 1432.00 844.60 C1436.20 844.27 1444.13 841.20 1448.50 841.00 C1452.87 840.80 1455.28 843.40 1458.20 843.40 C1461.12 843.40 1462.45 842.68 1466.00 841.00 C1469.55 839.32 1474.33 833.62 1479.50 833.30 C1484.67 832.98 1491.83 838.62 1497.00 839.10 C1502.17 839.58 1506.15 837.58 1510.50 836.20 C1514.85 834.82 1518.90 831.33 1523.10 830.80 C1527.30 830.27 1531.50 833.72 1535.70 833.00 C1539.90 832.28 1544.10 826.93 1548.30 826.50 C1552.50 826.07 1556.55 830.40 1560.90 830.40 C1565.25 830.40 1569.55 826.67 1574.40 826.50 C1579.25 826.33 1586.12 829.45 1590.00 829.40 C1593.88 829.35 1594.48 827.97 1597.70 826.20 C1600.92 824.43 1605.43 819.87 1609.30 818.80 C1613.17 817.73 1617.03 820.77 1620.90 819.80 C1624.77 818.83 1627.98 815.58 1632.50 813.00 C1637.02 810.42 1642.50 808.18 1648.00 804.30 C1653.50 800.42 1660.17 791.45 1665.50 789.70 C1670.83 787.95 1674.68 795.67 1680.00 793.80 C1685.32 791.93 1693.20 781.43 1697.40 778.50 C1701.60 775.57 1700.35 778.35 1705.20 776.20 C1710.05 774.05 1721.02 769.47 1726.50 765.60 C1731.98 761.73 1733.42 754.30 1738.10 753.00 C1742.78 751.70 1750.08 758.28 1754.60 757.80 C1759.12 757.32 1761.17 751.28 1765.20 750.10 C1769.23 748.92 1774.60 751.35 1778.80 750.70 C1783.00 750.05 1786.37 747.22 1790.40 746.20 C1794.43 745.18 1799.12 747.67 1803.00 744.60 C1806.88 741.53 1810.32 731.90 1813.70 727.80 C1817.08 723.70 1820.72 721.45 1823.30 720.00 C1825.88 718.55 1826.93 720.32 1829.20 719.10 C1831.47 717.88 1834.00 713.18 1836.90 712.70 C1839.80 712.22 1842.08 717.13 1846.60 716.20 C1851.12 715.27 1858.83 708.50 1864.00 707.10 C1869.17 705.70 1873.08 706.87 1877.60 707.80 C1882.12 708.73 1885.30 713.88 1891.10 712.70 C1896.90 711.52 1907.55 703.03 1912.40 700.70 C1917.25 698.37 1916.97 700.48 1920.20 698.70 C1923.43 696.92 1928.90 691.28 1931.80 690.00 C1934.70 688.72 1935.33 689.93 1937.60 691.00 C1939.87 692.07 1942.17 695.92 1945.40 696.40 C1948.63 696.88 1952.80 693.83 1957.00 693.90 C1961.20 693.97 1967.05 696.42 1970.60 696.80 C1974.15 697.18 1975.73 695.93 1978.30 696.20 C1980.87 696.47 1982.45 698.85 1986.00 698.40 C1989.55 697.95 1995.40 693.45 1999.60 693.50 C2003.80 693.55 2007.32 699.05 2011.20 698.70 C2015.08 698.35 2019.98 692.37 2022.90 691.40 C2025.82 690.43 2026.45 691.20 2028.70 692.90 C2030.95 694.60 2033.82 699.82 2036.40 701.60 C2038.98 703.38 2040.32 704.30 2044.20 703.60 C2048.08 702.90 2055.50 697.95 2059.70 697.40 C2063.90 696.85 2066.02 700.57 2069.40 700.30 C2072.78 700.03 2076.13 695.35 2080.00 695.80 C2083.87 696.25 2089.37 702.67 2092.60 703.00 C2095.83 703.33 2096.33 700.13 2099.40 697.80 C2102.47 695.47 2106.17 689.75 2111.00 689.00 C2115.83 688.25 2123.88 692.48 2128.40 693.30 C2132.92 694.12 2134.38 693.32 2138.10 693.90 C2141.82 694.48 2145.85 697.45 2150.70 696.80 C2155.55 696.15 2162.83 689.52 2167.20 690.00 C2171.57 690.48 2172.87 696.63 2176.90 699.70 C2180.93 702.77 2187.22 707.98 2191.40 708.40 C2195.58 708.82 2198.93 703.10 2202.00 702.20 C2205.07 701.30 2206.88 700.83 2209.80 703.00 C2212.72 705.17 2215.63 713.17 2219.50 715.20 C2223.37 717.23 2229.13 715.75 2233.00 715.20 C2236.87 714.65 2239.47 713.73 2242.70 711.90 C2245.93 710.07 2249.82 705.27 2252.40 704.20 C2254.98 703.13 2255.62 705.77 2258.20 705.50 C2260.78 705.23 2263.05 701.72 2267.90 702.60 C2272.75 703.48 2280.85 709.60 2287.30 710.80 C2293.75 712.00 2301.43 709.17 2306.60 709.80 C2311.77 710.43 2314.42 714.57 2318.30 714.60 C2322.18 714.63 2325.07 710.45 2329.90 710.00 C2334.73 709.55 2342.78 711.03 2347.30 711.90 C2351.82 712.77 2352.48 712.93 2357.00 715.20 C2361.52 717.47 2369.57 721.95 2374.40 725.50 C2379.23 729.05 2382.77 733.53 2386.00 736.50 C2389.23 739.47 2391.20 742.75 2393.80 743.30 C2396.40 743.85 2398.70 742.22 2401.60 739.80 C2404.50 737.38 2408.63 730.73 2411.20 728.80 C2413.77 726.87 2413.77 727.23 2417.00 728.20 C2420.23 729.17 2425.43 734.50 2430.60 734.60 C2435.77 734.70 2444.45 729.03 2448.00 728.80 C2451.55 728.57 2450.28 732.65 2451.90 733.20 C2453.52 733.75 2455.77 731.45 2457.70 732.10 C2459.63 732.75 2461.50 736.92 2463.50 737.10 C2465.50 737.28 2468.67 733.85 2469.70 733.20" fill="none" stroke="#7fb03c" stroke-width="4.6" stroke-linejoin="round" stroke-linecap="round"/>
<line x1="86.0" y1="928.8" x2="2469.7" y2="928.8" stroke="#4a4f58" stroke-width="2"/>
<line x1="199.5" y1="929" x2="199.5" y2="939" stroke="#454a52" stroke-width="1.6"/>
<line x1="398.1" y1="929" x2="398.1" y2="939" stroke="#454a52" stroke-width="1.6"/>
<line x1="596.7" y1="929" x2="596.7" y2="939" stroke="#454a52" stroke-width="1.6"/>
<line x1="795.3" y1="929" x2="795.3" y2="939" stroke="#454a52" stroke-width="1.6"/>
<line x1="993.9" y1="929" x2="993.9" y2="939" stroke="#454a52" stroke-width="1.6"/>
<line x1="1192.5" y1="929" x2="1192.5" y2="939" stroke="#454a52" stroke-width="1.6"/>
<line x1="1391.1" y1="929" x2="1391.1" y2="939" stroke="#454a52" stroke-width="1.6"/>
<line x1="1589.7" y1="929" x2="1589.7" y2="939" stroke="#454a52" stroke-width="1.6"/>
<line x1="1788.3" y1="929" x2="1788.3" y2="939" stroke="#454a52" stroke-width="1.6"/>
<line x1="1986.9" y1="929" x2="1986.9" y2="939" stroke="#454a52" stroke-width="1.6"/>
<line x1="2185.5" y1="929" x2="2185.5" y2="939" stroke="#454a52" stroke-width="1.6"/>
<line x1="2384.1" y1="929" x2="2384.1" y2="939" stroke="#454a52" stroke-width="1.6"/>
<path d="M2108.7 645 L2108.7 666.5 L2125 651" fill="#6aa84f"/>
<path transform="translate(370.00 1060.00)" d="M9.8 11 L27.7 11 L27.7 12.8 L20.9 21.2 L20.9 27.2 L16.4 29.6 L16.4 21.2 L9.8 12.8 Z" fill="none" stroke="#8f98a0" stroke-width="2.5" stroke-linejoin="round"/>
<path transform="translate(555.30 1060.00)" d="M9.8 11 L27.7 11 L27.7 12.8 L20.9 21.2 L20.9 27.2 L16.4 29.6 L16.4 21.2 L9.8 12.8 Z" fill="none" stroke="#8f98a0" stroke-width="2.5" stroke-linejoin="round"/>
<path transform="translate(750.10 1060.00)" d="M9.8 11 L27.7 11 L27.7 12.8 L20.9 21.2 L20.9 27.2 L16.4 29.6 L16.4 21.2 L9.8 12.8 Z" fill="none" stroke="#8f98a0" stroke-width="2.5" stroke-linejoin="round"/>
<path transform="translate(892.50 1060.00)" d="M9.8 11 L27.7 11 L27.7 12.8 L20.9 21.2 L20.9 27.2 L16.4 29.6 L16.4 21.2 L9.8 12.8 Z" fill="none" stroke="#8f98a0" stroke-width="2.5" stroke-linejoin="round"/>
<path transform="translate(1152.90 1060.00)" d="M9.8 11 L27.7 11 L27.7 12.8 L20.9 21.2 L20.9 27.2 L16.4 29.6 L16.4 21.2 L9.8 12.8 Z" fill="none" stroke="#8f98a0" stroke-width="2.5" stroke-linejoin="round"/>
<path transform="translate(1403.30 1060.00)" d="M9.8 11 L27.7 11 L27.7 12.8 L20.9 21.2 L20.9 27.2 L16.4 29.6 L16.4 21.2 L9.8 12.8 Z" fill="none" stroke="#8f98a0" stroke-width="2.5" stroke-linejoin="round"/>
<path transform="translate(1631.50 1060.00)" d="M9.8 11 L27.7 11 L27.7 12.8 L20.9 21.2 L20.9 27.2 L16.4 29.6 L16.4 21.2 L9.8 12.8 Z" fill="none" stroke="#8f98a0" stroke-width="2.5" stroke-linejoin="round"/>
<path transform="translate(1787.10 1060.00)" d="M9.8 11 L27.7 11 L27.7 12.8 L20.9 21.2 L20.9 27.2 L16.4 29.6 L16.4 21.2 L9.8 12.8 Z" fill="none" stroke="#8f98a0" stroke-width="2.5" stroke-linejoin="round"/>
<path d="M1399.7 1528.1 L1403.1 1516.6 L1411.2 1517.2 L1415.4 1510.3 L1419.1 1509.6 L1423.3 1516.4 L1426.3 1514.0 L1430.6 1521.7 L1434.2 1520.0 L1439.6 1523.3 L1445.7 1528.5 L1449.3 1530.6 L1453.6 1527.8 L1457.2 1532.1 L1461.4 1527.3 L1465.1 1533.6 L1468.7 1531.8 L1476.0 1533.0 L1482.0 1535.4 L1488.1 1538.4 L1495.3 1539.4 L1500.2 1538.4 L1507.4 1539.9 L1511.1 1543.0 L1517.1 1539.9 L1525.6 1540.8 L1534.1 1543.5 L1545.0 1542.1 L1549.8 1539.9 L1557.1 1532.4 L1560.7 1527.5 L1564.9 1527.5 L1569.2 1520.5 L1575.2 1516.6 L1580.1 1511.8 L1583.7 1513.0 L1591.6 1513.0 L1595.8 1508.2 L1599.4 1508.2 L1603.7 1512.4 L1607.9 1511.8 L1615.2 1507.2 L1618.8 1513.0 L1622.4 1516.6" fill="none" stroke="#c9cbd0" stroke-width="2.9" stroke-linejoin="miter" stroke-miterlimit="3"/>
<path d="M1399.7 1667.9 L1403.6 1661.4 L1407.6 1661.4 L1411.8 1665.0 L1415.4 1663.8 L1419.1 1666.5 L1426.3 1665.9 L1434.2 1669.5 L1442.1 1663.1 L1445.7 1664.7 L1449.9 1665.0 L1453.0 1656.6 L1457.2 1655.3 L1461.4 1646.9 L1465.7 1645.3 L1468.7 1640.8 L1472.3 1642.3 L1476.6 1642.5 L1480.2 1650.5 L1484.4 1644.4 L1488.1 1632.8 L1492.3 1632.8 L1495.9 1638.9 L1500.2 1639.2 L1507.4 1643.7 L1514.7 1649.8 L1523.2 1655.3 L1526.8 1654.1 L1534.1 1657.0 L1542.5 1648.3 L1547.4 1644.7 L1552.8 1636.8 L1557.1 1636.5 L1561.3 1633.2 L1564.9 1632.8 L1569.2 1630.8 L1572.8 1630.4 L1575.8 1634.0 L1580.1 1636.8 L1584.3 1631.1 L1587.9 1638.4 L1592.2 1635.6 L1595.8 1637.4 L1600.7 1638.4 L1605.5 1641.1 L1607.9 1643.7 L1614.6 1648.3 L1618.8 1646.1 L1622.4 1652.6" fill="none" stroke="#c9cbd0" stroke-width="2.9" stroke-linejoin="miter" stroke-miterlimit="3"/>
<path d="M1399.7 1790.9 L1403.9 1786.8 L1407.6 1785.6 L1411.8 1788.0 L1415.4 1785.6 L1420.3 1785.6 L1426.3 1786.8 L1431.2 1788.9 L1440.8 1784.6 L1446.9 1786.5 L1449.3 1785.8 L1454.2 1782.2 L1457.8 1782.0 L1462.6 1778.6 L1468.7 1773.7 L1473.5 1776.8 L1477.2 1778.6 L1488.1 1782.2 L1492.3 1781.6 L1495.9 1785.8 L1500.2 1784.6 L1506.2 1784.9 L1511.1 1782.5 L1519.5 1786.8 L1523.2 1785.8 L1531.0 1788.5 L1538.9 1784.6 L1545.6 1781.6 L1548.6 1776.4 L1554.6 1771.1 L1560.7 1763.8 L1564.9 1766.5 L1568.6 1752.9 L1572.8 1756.8 L1576.4 1757.0 L1581.3 1759.8 L1584.9 1760.4 L1592.2 1765.9 L1595.8 1767.1 L1598.8 1766.2 L1603.1 1770.1 L1606.7 1769.5 L1611.5 1771.9 L1618.2 1773.1 L1622.4 1775.6" fill="none" stroke="#c9cbd0" stroke-width="2.9" stroke-linejoin="miter" stroke-miterlimit="3"/>
<path d="M1399.7 1921.2 L1405.1 1919.5 L1408.2 1919.7 L1414.2 1921.2 L1419.1 1917.3 L1422.1 1917.1 L1426.3 1914.9 L1431.2 1915.9 L1434.8 1917.3 L1438.4 1915.5 L1442.1 1907.9 L1445.7 1911.3 L1449.3 1910.7 L1456.6 1911.5 L1461.4 1907.9 L1465.1 1912.2 L1469.3 1910.3 L1473.5 1913.4 L1477.2 1915.1 L1480.8 1915.5 L1485.6 1917.1 L1488.1 1916.1 L1492.3 1918.3 L1495.9 1915.1 L1500.2 1917.3 L1503.8 1917.6 L1507.4 1918.3 L1511.1 1918.3 L1515.3 1920.3 L1519.5 1918.8 L1522.6 1919.1 L1526.8 1921.2 L1534.1 1921.2 L1537.7 1917.9 L1542.5 1916.4 L1546.2 1915.1 L1551.0 1911.3 L1558.9 1898.0 L1564.9 1890.1 L1568.6 1879.8 L1572.8 1875.9 L1576.4 1878.3 L1580.7 1876.4 L1584.3 1884.4 L1587.9 1882.2 L1591.6 1891.7 L1595.8 1890.9 L1600.0 1891.7 L1603.7 1895.5 L1607.3 1900.4 L1611.5 1901.8 L1616.4 1905.5 L1622.4 1910.7" fill="none" stroke="#c9cbd0" stroke-width="2.9" stroke-linejoin="miter" stroke-miterlimit="3"/>
<path d="M1399.7 2034.9 L1403.9 2034.0 L1408.2 2030.4 L1411.8 2026.4 L1414.2 2011.3 L1418.5 2000.1 L1422.7 2005.0 L1426.9 2014.7 L1434.2 2013.9 L1438.4 2018.5 L1441.8 2007.9 L1445.7 2012.7 L1449.6 2008.6 L1453.6 2014.9 L1457.2 2016.7 L1461.4 2010.7 L1465.7 2008.8 L1468.7 2003.4 L1472.9 1998.6 L1476.6 2003.8 L1481.4 2000.6 L1485.6 2001.3 L1490.5 2005.2 L1496.5 2010.3 L1500.2 2010.3 L1503.8 2018.3 L1507.4 2020.0 L1511.1 2012.7 L1515.3 2023.6 L1519.5 2022.4 L1523.2 2024.3 L1526.8 2029.7 L1534.1 2030.4 L1537.7 2026.4 L1541.9 2024.3 L1546.2 2034.3 L1549.2 2023.1 L1553.4 2020.3 L1557.7 2026.0 L1561.9 2021.2 L1565.5 2021.0 L1568.6 2014.3 L1572.8 2022.4 L1576.4 2020.3 L1583.7 2018.8 L1587.9 2013.1 L1591.6 2020.7 L1595.8 2012.2 L1603.7 2027.0 L1607.9 2025.8 L1615.2 2026.0 L1618.8 2028.8 L1622.4 2021.2" fill="none" stroke="#c9cbd0" stroke-width="2.9" stroke-linejoin="miter" stroke-miterlimit="3"/>
<path d="M1399.7 2166.0 L1403.9 2162.7 L1407.6 2153.4 L1411.8 2147.8 L1414.8 2139.1 L1418.8 2142.5 L1422.7 2139.4 L1426.3 2138.5 L1431.2 2138.9 L1434.8 2143.0 L1438.4 2152.7 L1442.1 2151.8 L1445.9 2155.8 L1449.9 2151.5 L1453.0 2122.4 L1456.6 2137.3 L1460.8 2150.6 L1465.7 2146.6 L1468.7 2135.2 L1473.5 2138.5 L1476.6 2144.2 L1480.2 2141.5 L1485.6 2147.3 L1491.7 2150.6 L1499.0 2158.2 L1503.8 2158.2 L1507.4 2162.4 L1511.1 2159.9 L1518.3 2163.6 L1523.2 2166.7 L1526.8 2167.0 L1531.0 2163.3 L1533.5 2147.0 L1537.1 2138.5 L1541.9 2144.2 L1546.2 2142.5 L1550.4 2140.1 L1553.4 2135.2 L1560.7 2130.4 L1564.3 2146.6 L1568.6 2143.0 L1572.8 2135.2 L1576.4 2132.8 L1580.1 2144.9 L1584.3 2153.4 L1587.9 2139.7 L1591.6 2149.8 L1595.8 2158.7 L1599.4 2154.6 L1603.1 2159.4 L1610.9 2149.8 L1618.8 2157.3 L1622.4 2153.4" fill="none" stroke="#c9cbd0" stroke-width="2.9" stroke-linejoin="miter" stroke-miterlimit="3"/>
</svg>
</body></html>
